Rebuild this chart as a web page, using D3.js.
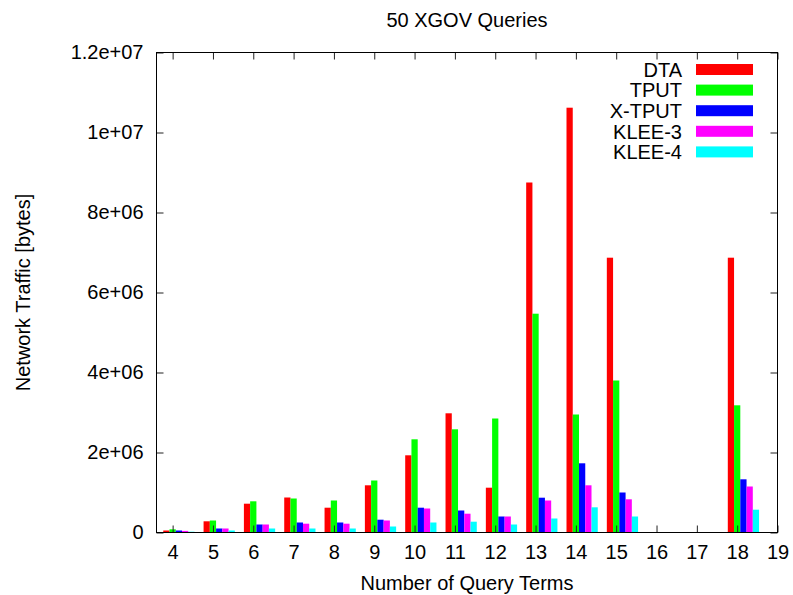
<!DOCTYPE html>
<html>
<head>
<meta charset="utf-8">
<script src="https://cdn.jsdelivr.net/npm/d3@7"></script>
<style>
  html, body { margin: 0; padding: 0; background: #fff; }
  svg { display: block; }
  text { font-family: "Liberation Sans", Arial, Helvetica, sans-serif; fill: #000; }
</style>
</head>
<body>
<svg id="chart" width="793" height="595"></svg>
<script>
// ---- data (values in bytes) ----
const categories = [4, 5, 6, 7, 8, 9, 10, 11, 12, 13, 14, 15, 16, 17, 18];
const seriesNames = ["DTA", "TPUT", "X-TPUT", "KLEE-3", "KLEE-4"];
const DTA   = [0.05e6, 0.28e6, 0.72e6, 0.875e6, 0.62e6, 1.18e6, 1.93e6, 2.98e6, 1.12e6, 8.75e6, 10.62e6, 6.87e6, null, null, 6.87e6];
const TPUT  = [0.08e6, 0.30e6, 0.78e6, 0.85e6, 0.80e6, 1.30e6, 2.33e6, 2.58e6, 2.85e6, 5.47e6, 2.95e6, 3.80e6, null, null, 3.18e6];
const XTPUT = [0.05e6, 0.10e6, 0.20e6, 0.25e6, 0.25e6, 0.32e6, 0.62e6, 0.55e6, 0.40e6, 0.87e6, 1.73e6, 1.00e6, null, null, 1.33e6];
const KLEE3 = [0.04e6, 0.10e6, 0.20e6, 0.22e6, 0.22e6, 0.30e6, 0.60e6, 0.47e6, 0.40e6, 0.80e6, 1.18e6, 0.83e6, null, null, 1.15e6];
const KLEE4 = [0.02e6, 0.05e6, 0.10e6, 0.10e6, 0.10e6, 0.15e6, 0.25e6, 0.27e6, 0.20e6, 0.35e6, 0.63e6, 0.40e6, null, null, 0.57e6];
const seriesValues = [DTA, TPUT, XTPUT, KLEE3, KLEE4];
const colors = ["#ff0000", "#00ff00", "#0000ff", "#ff00ff", "#00ffff"];
const xTicks = [4, 5, 6, 7, 8, 9, 10, 11, 12, 13, 14, 15, 16, 17, 18, 19];
const yTicks = [0, 2e6, 4e6, 6e6, 8e6, 1e7, 1.2e7];
const yTickLabels = ["0", "2e+06", "4e+06", "6e+06", "8e+06", "1e+07", "1.2e+07"];

const title = "50 XGOV Queries";
const xTitle = "Number of Query Terms";
const yTitle = "Network Traffic [bytes]";

// ---- layout ----
const L = 156.5, R = 777.5, T = 52.5, B = 532.5;
const boxW = 0.155;         // bar width in x units
const svg = d3.select("#chart");

const x = d3.scaleLinear().domain([3.6, 19]).range([L, R]);
const y = d3.scaleLinear().domain([0, 1.2e7]).range([B, T]);

// bars
seriesValues.forEach((vals, si) => {
  const off = (si - 1) * boxW;
  svg.append("g").selectAll("rect")
    .data(categories.map((c, i) => ({c, v: vals[i]})).filter(d => d.v != null))
    .join("rect")
    .attr("x", d => x(d.c + off - boxW / 2))
    .attr("width", d => x(d.c + off + boxW / 2) - x(d.c + off - boxW / 2))
    .attr("y", d => y(d.v))
    .attr("height", d => y(0) - y(d.v))
    .attr("fill", colors[si]);
});

// axes (ticks inside, mirrored)
const tickLen = 7;
const fmtY = (d) => yTickLabels[yTicks.indexOf(d)];

const gx = svg.append("g").attr("transform", `translate(0,${B})`)
  .call(d3.axisBottom(x).tickValues(xTicks).tickSize(-tickLen).tickPadding(12).tickFormat(d3.format("d")));
const gxTop = svg.append("g").attr("transform", `translate(0,${T})`)
  .call(d3.axisTop(x).tickValues(xTicks).tickSize(-tickLen).tickFormat(""));
const gy = svg.append("g").attr("transform", `translate(${L},0)`)
  .call(d3.axisLeft(y).tickValues(yTicks).tickSize(-tickLen).tickPadding(13).tickFormat(fmtY));
const gyR = svg.append("g").attr("transform", `translate(${R},0)`)
  .call(d3.axisRight(y).tickValues(yTicks).tickSize(-tickLen).tickFormat(""));

[gx, gxTop, gy, gyR].forEach(g => {
  g.select(".domain").remove();
  g.selectAll(".tick line").attr("stroke", "#222").attr("stroke-width", 1);
  g.selectAll("text").attr("font-size", 20).attr("font-family", "'Liberation Sans', Arial, sans-serif").attr("fill", "#000");
});
gx.selectAll(".tick text").attr("dy", "0.71em");

// border
svg.append("rect").attr("x", L).attr("y", T).attr("width", R - L).attr("height", B - T)
  .attr("fill", "none").attr("stroke", "#000").attr("stroke-width", 1);

// titles
svg.append("text").attr("x", (L + R) / 2).attr("y", 27).attr("text-anchor", "middle")
  .attr("font-size", 20).text(title);
svg.append("text").attr("x", (L + R) / 2).attr("y", 590).attr("text-anchor", "middle")
  .attr("font-size", 20).text(xTitle);
svg.append("text").attr("transform", `translate(30,${(T + B) / 2}) rotate(-90)`)
  .attr("text-anchor", "middle").attr("font-size", 20).text(yTitle);

// legend
const legY0 = 69.5, legDy = 20.6;
const leg = svg.append("g");
seriesNames.forEach((name, i) => {
  const cy = legY0 + i * legDy;
  leg.append("text").attr("x", 682).attr("y", cy).attr("dy", "0.36em")
    .attr("text-anchor", "end").attr("font-size", 20).text(name);
  leg.append("rect").attr("x", 696).attr("y", cy - 5.5).attr("width", 57).attr("height", 11)
    .attr("fill", colors[i]);
});
</script>
</body>
</html>
